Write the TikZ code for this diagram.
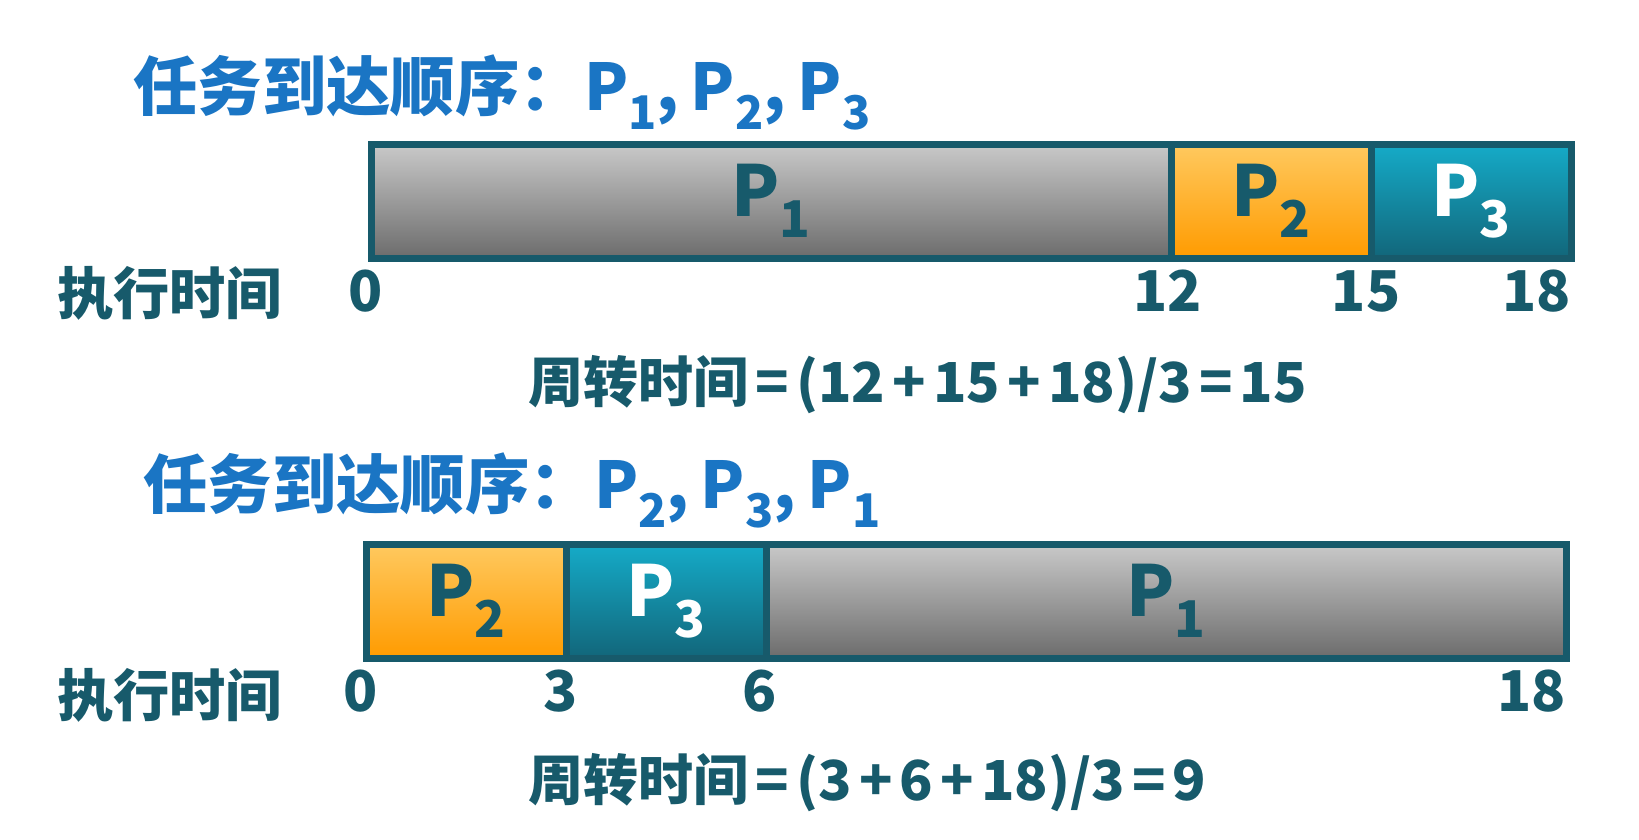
\documentclass[tikz,border=0pt]{standalone}
\usepackage{fontspec}
\newfontfamily\cjk{Noto Sans CJK SC}
\usetikzlibrary{positioning}
\definecolor{ttlblue}{HTML}{1A75C4}
\definecolor{ink}{HTML}{175A6B}
\definecolor{grayhi}{HTML}{C9C9C9}
\definecolor{graylo}{HTML}{6C6C6C}
\definecolor{orghi}{HTML}{FFC95F}
\definecolor{orglo}{HTML}{FF9B00}
\definecolor{tealhi}{HTML}{15ABC8}
\definecolor{teallo}{HTML}{12667A}
\newcommand\Pn[1]{P\raisebox{-0.3em}{\scalebox{0.72}{#1}}}
\newcommand\op[1]{\hspace{0.13em}#1\hspace{0.13em}}
\newcommand\sep{,\hspace{0.18em}}
\tikzset{
x=0.03cm, y=-0.03cm,
seg/.style={draw=ink, line width=0.21cm, minimum height=3.42cm, inner sep=0,
  outer sep=0, font=\cjk\bfseries\fontsize{60}{60}\selectfont, text=ink},
job1/.style={seg, top color=grayhi, bottom color=graylo, minimum width=24cm},
job2/.style={seg, top color=orghi, bottom color=orglo, minimum width=6cm},
job3/.style={seg, top color=tealhi, bottom color=teallo, minimum width=6cm, text=white},
order/.style={anchor=base west, inner sep=0, text=ttlblue,
  font=\cjk\bfseries\fontsize{55}{55}\selectfont},
lbl/.style={anchor=base west, inner sep=0, text=ink,
  font=\cjk\bfseries\fontsize{48}{48}\selectfont},
tick/.style={anchor=base, inner sep=0, text=ink, yshift=-1.59cm,
  font=\cjk\bfseries\fontsize{48}{48}\selectfont},
avg/.style={anchor=base west, inner sep=0, text=ink,
  font=\cjk\bfseries\fontsize{47}{47}\selectfont},
}
\begin{document}
\begin{tikzpicture}
\useasboundingbox[fill=white] (0,0) rectangle (1639,840);

\node[order] (ord1) at (133,110) {任务到达顺序：\Pn{1}\sep\Pn{2}\sep\Pn{3}};
\node[job1,anchor=north west] (a1) at (371,144) {\Pn{1}};
\node[job2,right=0pt of a1] (a2) {\Pn{2}};
\node[job3,right=0pt of a2] (a3) {\Pn{3}};
\node[lbl] (run1) at (57,314) {执行时间};
\node[tick,xshift=-0.15cm] (ta0) at (a1.south west) {0};
\node[tick,xshift=-0.1cm] (ta12) at (a1.south east) {12};
\node[tick,xshift=-0.15cm] (ta15) at (a2.south east) {15};
\node[tick,anchor=base east] (ta18) at (a3.south east) {18};
\node[avg] (avg1) at (528,402) {周转时间\op{=}(12\op{+}15\op{+}18)/3\op{=}15};

\node[order] (ord2) at (143,508) {任务到达顺序：\Pn{2}\sep\Pn{3}\sep\Pn{1}};
\node[job2,anchor=north west] (b2) at (366,544) {\Pn{2}};
\node[job3,right=0pt of b2] (b3) {\Pn{3}};
\node[job1,right=0pt of b3] (b1) {\Pn{1}};
\node[lbl] (run2) at (57,716) {执行时间};
\node[tick,xshift=-0.15cm] (tb0) at (b2.south west) {0};
\node[tick,xshift=-0.15cm] (tb3) at (b2.south east) {3};
\node[tick,xshift=-0.2cm] (tb6) at (b3.south east) {6};
\node[tick,anchor=base east] (tb18) at (b1.south east) {18};
\node[avg] (avg2) at (528,800) {周转时间\op{=}(3\op{+}6\op{+}18)/3\op{=}9};
\end{tikzpicture}
\end{document}
